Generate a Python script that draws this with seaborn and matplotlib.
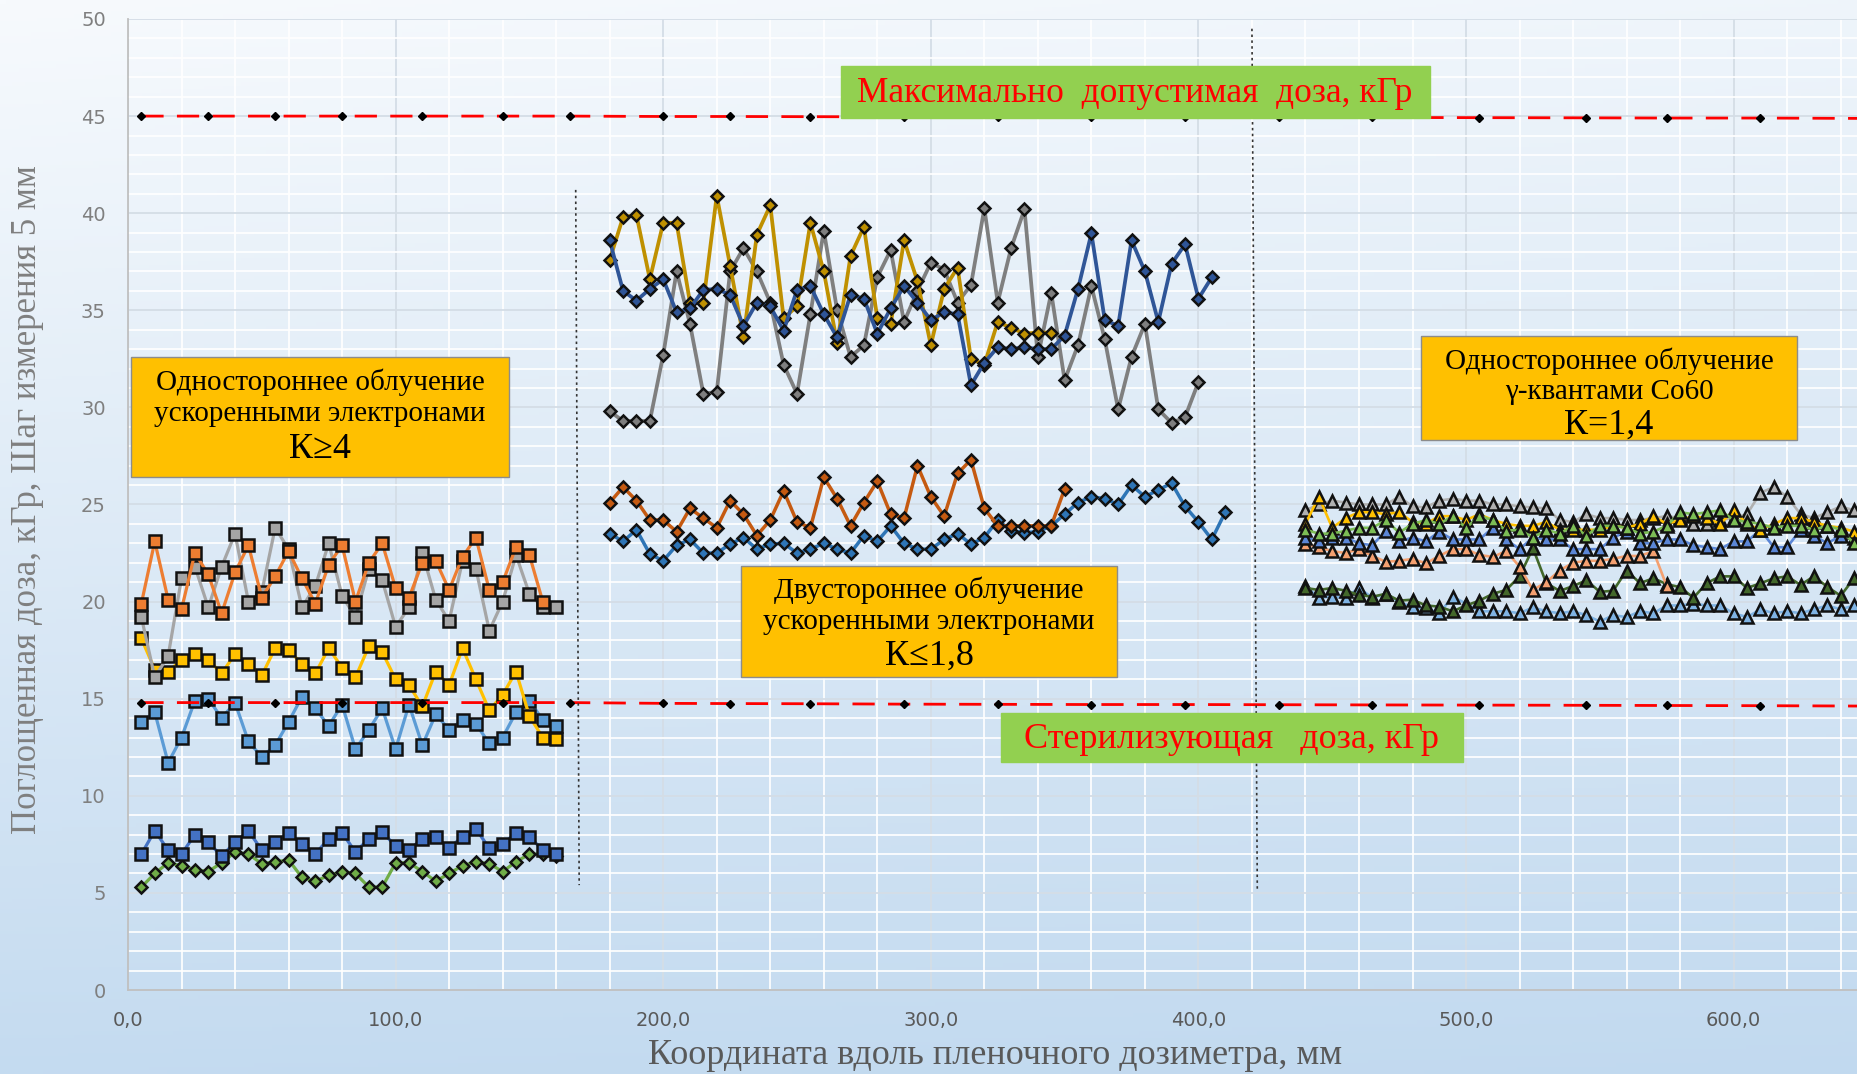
import numpy as np
import matplotlib
matplotlib.use("Agg")
import matplotlib.pyplot as plt
from matplotlib.patches import Rectangle
from matplotlib.colors import to_rgb
from matplotlib.ticker import FixedLocator, FixedFormatter
import seaborn as sns

# ---------------- data ----------------
STEP_MM = 5  # measurement step along the film dosimeter

# one-sided electron irradiation, K>=4 (x = 5 ... 160 mm)
left_start = 5
orange_L = [19.9, 23.1, 20.1, 19.6, 22.5, 21.4, 19.4, 21.5, 22.9, 20.2, 21.3, 22.6, 21.2, 19.9, 21.9, 22.9,
            20.0, 22.0, 23.0, 20.7, 20.2, 22.0, 22.1, 20.6, 22.3, 23.3, 20.6, 21.0, 22.8, 22.4, 20.0]
grey_L = [19.2, 16.1, 17.2, 21.2, 21.8, 19.7, 21.8, 23.5, 20.0, 20.5, 23.8, 22.7, 19.7, 20.8, 23.0, 20.3,
          19.2, 21.7, 21.1, 18.7, 19.7, 22.5, 20.1, 19.0, 22.1, 21.7, 18.5, 20.0, 22.4, 20.4, 19.7, 19.7]
yellow_L = [18.1, 16.5, 16.4, 17.0, 17.3, 17.0, 16.3, 17.3, 16.8, 16.2, 17.6, 17.5, 16.8, 16.3, 17.6, 16.6,
            16.1, 17.7, 17.4, 16.0, 15.7, 14.6, 16.4, 15.7, 17.6, 16.0, 14.4, 15.2, 16.4, 14.1, 13.0, 12.9]
blue_L = [13.8, 14.3, 11.7, 13.0, 14.9, 15.0, 14.0, 14.8, 12.8, 12.0, 12.6, 13.8, 15.1, 14.5, 13.6, 14.7,
          12.4, 13.4, 14.5, 12.4, 14.7, 12.6, 14.2, 13.4, 13.9, 13.7, 12.7, 13.0, 14.3, 14.9, 13.9, 13.6]
darkblue_L = [7.0, 8.2, 7.2, 7.0, 8.0, 7.6, 6.9, 7.6, 8.2, 7.2, 7.6, 8.1, 7.5, 7.0, 7.8, 8.1,
              7.1, 7.8, 8.15, 7.4, 7.2, 7.8, 7.9, 7.3, 7.9, 8.3, 7.3, 7.5, 8.1, 7.9, 7.2, 7.0]
green_L = [5.3, 6.0, 6.55, 6.4, 6.2, 6.1, 6.55, 7.1, 7.0, 6.5, 6.6, 6.7, 5.8, 5.6, 5.9, 6.1,
           6.0, 5.3, 5.3, 6.55, 6.55, 6.1, 5.6, 6.0, 6.4, 6.6, 6.5, 6.1, 6.6, 7.0, 7.0, 6.9]

# two-sided electron irradiation, K<=1.8 (x = 180 ... 410 mm)
mid_start = 180
gold_M = [37.6, 39.8, 39.9, 36.6, 39.5, 39.5, 35.4, 35.4, 40.9, 37.3, 33.6, 38.9, 40.4, 34.6, 35.2, 39.5,
          37.0, 33.3, 37.8, 39.3, 34.6, 34.3, 38.6, 36.5, 33.2, 36.1, 37.2, 32.5, 32.2, 34.4, 34.1, 33.8,
          33.85, 33.85]
grey_M = [29.8, 29.3, 29.3, 29.3, 32.7, 37.0, 34.3, 30.7, 30.8, 37.0, 38.2, 37.0, 35.4, 32.2, 30.7, 34.8,
          39.1, 35.0, 32.6, 33.2, 36.7, 38.1, 34.4, 36.0, 37.45, 37.1, 35.4, 36.3, 40.25, 35.4, 38.2, 40.2,
          32.6, 35.9, 31.4, 33.2, 36.25, 33.5, 29.9, 32.6, 34.3, 29.9, 29.2, 29.5, 31.3]
navy_M = [38.6, 36.0, 35.5, 36.1, 36.6, 34.9, 35.1, 36.05, 36.1, 35.8, 34.2, 35.4, 35.2, 33.95, 36.05, 36.25,
          34.8, 33.6, 35.8, 35.6, 33.8, 35.1, 36.25, 35.4, 34.5, 34.9, 34.8, 31.15, 32.3, 33.1, 33.0, 33.1,
          33.0, 33.0, 33.7, 36.1, 38.96, 34.5, 34.2, 38.6, 37.0, 34.4, 37.4, 38.4, 35.6, 36.7]
brown_M = [25.1, 25.9, 25.2, 24.2, 24.2, 23.6, 24.8, 24.3, 23.8, 25.2, 24.5, 23.4, 24.2, 25.7, 24.1, 23.8,
           26.4, 25.3, 23.9, 25.1, 26.2, 24.5, 24.3, 27.0, 25.4, 24.4, 26.6, 27.3, 24.8, 23.9, 23.9, 23.9,
           23.9, 23.9, 25.8]
steel_M = [23.5, 23.1, 23.7, 22.45, 22.1, 22.9, 23.2, 22.5, 22.5, 22.96, 23.3, 22.7, 22.96, 23.0, 22.5, 22.7,
           23.0, 22.7, 22.5, 23.4, 23.1, 23.9, 23.0, 22.7, 22.7, 23.2, 23.5, 22.96, 23.3, 24.2, 23.65, 23.55,
           23.6, 23.9, 24.5, 25.1, 25.4, 25.3, 25.0, 26.0, 25.4, 25.75, 26.1, 24.9, 24.1, 23.2, 24.6]

# one-sided Co60 gamma irradiation, K=1.4 (x = 440 ... 645 mm)
right_start = 440
lightblue_R = [20.8, 20.2, 20.25, 20.2, 20.7, 20.2, 20.4, 20.0, 19.7, 19.65, 19.4, 20.25, 19.9, 19.5, 19.5, 19.5,
               19.4, 19.7, 19.5, 19.4, 19.5, 19.3, 18.97, 19.3, 19.2, 19.5, 19.4, 19.8, 19.8, 19.9, 19.8, 19.8,
               19.4, 19.2, 19.6, 19.4, 19.5, 19.4, 19.6, 19.8, 19.6, 19.8]
darkgreen_R = [20.7, 20.6, 20.7, 20.56, 20.34, 20.25, 20.4, 20.05, 20.1, 19.8, 19.74, 19.5, 19.8, 20.05, 20.4,
               20.6, 21.3, 22.75, 20.95, 20.55, 20.8, 21.1, 20.5, 20.56, 21.6, 20.95, 21.2, 20.9, 20.74, 20.2,
               20.96, 21.3, 21.3, 20.7, 20.94, 21.2, 21.3, 20.86, 21.3, 20.76, 20.3, 21.2]
orange_R = [22.96, 22.8, 22.6, 22.5, 22.7, 22.35, 22.05, 22.1, 22.2, 21.97, 22.35, 22.7, 22.7, 22.4, 22.3, 22.6,
            21.8, 20.6, 21.0, 21.6, 22.0, 22.1, 22.1, 22.2, 22.35, 22.35, 22.6, 20.8]
grey_R = [24.7, 25.0, 25.2, 25.1, 25.0, 25.0, 25.0, 25.4, 24.9, 24.85, 25.2, 25.3, 25.2, 25.2, 25.0, 25.0,
          24.9, 24.85, 24.8, 24.2, 24.1, 24.5, 24.3, 24.3, 24.2, 24.2, 24.3, 24.4, 24.3, 24.0, 24.0, 24.2,
          24.3, 24.5, 25.6, 25.9, 25.4, 24.5, 24.3, 24.6, 24.9, 24.7]
blue_R = [23.3, 23.1, 23.3, 23.3, 23.0, 22.9, 23.65, 23.1, 23.3, 23.1, 23.6, 23.2, 23.2, 23.2, 23.8, 23.2,
          22.7, 23.3, 23.2, 23.2, 22.7, 22.7, 22.7, 23.3, 23.6, 23.0, 23.0, 23.2, 23.2, 22.9, 22.8, 22.7,
          23.1, 23.1, 23.7, 22.8, 22.8, 23.7, 23.4, 23.0, 23.4, 23.3]
yellow_R = [24.0, 25.4, 23.8, 24.3, 24.6, 24.6, 24.5, 24.6, 24.1, 24.0, 24.4, 24.4, 24.2, 24.5, 24.2, 24.0,
            23.9, 23.9, 24.1, 23.7, 23.7, 23.7, 23.7, 23.9, 23.8, 24.0, 24.4, 24.0, 24.2, 24.4, 24.3, 24.0,
            24.7, 24.0, 23.7, 24.0, 24.3, 24.3, 24.1, 23.9, 23.8, 23.6]
green_R = [23.7, 23.5, 23.5, 23.65, 23.8, 23.8, 24.2, 23.55, 24.0, 24.2, 24.0, 24.4, 23.8, 24.4, 24.2, 23.65,
           23.7, 23.3, 23.7, 23.5, 23.9, 23.4, 23.9, 23.9, 23.8, 23.5, 23.6, 23.9, 24.6, 24.5, 24.6, 24.7,
           24.2, 24.1, 24.0, 23.8, 23.9, 23.9, 23.7, 23.9, 23.7, 23.0]

# dose limits
limit_x = [5, 30, 55, 80, 110, 140, 165, 200, 225, 255, 290, 325, 360, 395, 430, 465, 505, 545, 575, 610, 650]
max_dose = [45.0, 45.0, 45.0, 45.0, 45.0, 45.0, 45.0, 44.98, 44.98, 44.97, 44.96, 44.95, 44.95, 44.94,
            44.93, 44.93, 44.92, 44.91, 44.9, 44.9, 44.88]
steril_dose = [14.8, 14.8, 14.8, 14.8, 14.8, 14.8, 14.8, 14.76, 14.75, 14.74, 14.72, 14.71, 14.7, 14.7,
               14.69, 14.68, 14.67, 14.66, 14.65, 14.64, 14.62]

# section dividers
divider1_x = [167.3, 168.6]
divider1_y = [41.2, 5.4]
divider2_x = [420.0, 422.0]
divider2_y = [49.5, 5.2]

y_ticks = [0, 5, 10, 15, 20, 25, 30, 35, 40, 45, 50]
x_ticks = [0, 100, 200, 300, 400, 500, 600]
x_tick_labels = ["0,0", "100,0", "200,0", "300,0", "400,0", "500,0", "600,0"]


def xs(start, values):
    return list(start + STEP_MM * np.arange(len(values)))


# ---------------- figure ----------------
W, H = 1857, 1074
sns.set_style("white")
plt.rcParams["font.family"] = ["DejaVu Sans"]
SERIF = ["Liberation Serif", "DejaVu Serif"]

fig = plt.figure(figsize=(W / 100, H / 100), dpi=100)


def fx(px):
    return px / W


def fy(py):
    return 1 - py / H


# soft vertical gradient background
bg = fig.add_axes([0, 0, 1, 1], zorder=-10)
bg.axis("off")
gy = np.linspace(0, 1, 300)[:, None]
gx = np.linspace(0, 1, 300)[None, :]
t = np.clip(0.86 * gy + 0.14 * gx * (1 - gy) + 0.05 * gy * gx, 0, 1)
c_top = np.array(to_rgb("#f7fafd"))
c_bot = np.array(to_rgb("#bcd6ee"))
img = c_top[None, None, :] * (1 - t[..., None]) + c_bot[None, None, :] * t[..., None]
bg.imshow(img, aspect="auto", extent=[0, 1, 0, 1], origin="upper")
bg.set_xlim(0, 1)
bg.set_ylim(0, 1)

ax = fig.add_axes([fx(128), fy(990), 1 - fx(128), (990 - 19) / H])
ax.set_facecolor("none")
ax.set_xlim(0, 646.1)
ax.set_ylim(0, 50)

# grid
ax.yaxis.set_major_locator(FixedLocator(y_ticks))
ax.yaxis.set_minor_locator(FixedLocator(list(range(0, 51))))
ax.xaxis.set_major_locator(FixedLocator(x_ticks))
ax.xaxis.set_major_formatter(FixedFormatter(x_tick_labels))
ax.xaxis.set_minor_locator(FixedLocator(list(range(0, 660, 20))))
ax.grid(which="minor", color="white", linewidth=1.3, alpha=0.95, zorder=0)
ax.grid(which="major", color="#d4dde6", linewidth=1.3, zorder=0)
ax.set_axisbelow(True)
for s in ["top", "right"]:
    ax.spines[s].set_visible(False)
for s in ["left", "bottom"]:
    ax.spines[s].set_color("#c0c0c0")
    ax.spines[s].set_linewidth(1.3)
ax.tick_params(axis="y", which="major", length=7, color="#c0c0c0", pad=9,
               labelsize=14, labelcolor="#7f7f7f")
ax.tick_params(axis="y", which="minor", length=4, color="#c8c8c8")
ax.tick_params(axis="x", which="major", length=7, color="#c0c0c0", pad=8,
               labelsize=14, labelcolor="#595959")
ax.tick_params(axis="x", which="minor", length=0)


def series(x, y, color, marker, ms, lw, z):
    sns.lineplot(x=x, y=y, ax=ax, color=color, marker=marker, markersize=ms,
                 markeredgecolor="#111111", markeredgewidth=1.8, linewidth=lw,
                 estimator=None, errorbar=None, sort=False, zorder=z, legend=False)


# left block: squares and diamonds
series(xs(left_start, green_L), green_L, "#70ad47", "D", 6.5, 2.3, 3)
series(xs(left_start, darkblue_L), darkblue_L, "#4472c4", "s", 9, 2.3, 3)
series(xs(left_start, blue_L), blue_L, "#5b9bd5", "s", 9, 2.3, 3)
series(xs(left_start, yellow_L), yellow_L, "#ffc000", "s", 9, 2.3, 3)
series(xs(left_start, grey_L), grey_L, "#a5a5a5", "s", 9, 2.3, 3)
series(xs(left_start, orange_L), orange_L, "#ed7d31", "s", 9, 2.3, 3)

# middle block: diamonds
series(xs(mid_start, steel_M), steel_M, "#2e75b6", "D", 6.5, 2.5, 3)
series(xs(mid_start, brown_M), brown_M, "#c55a11", "D", 6.5, 2.5, 3)
series(xs(mid_start, grey_M), grey_M, "#7f7f7f", "D", 6.5, 2.7, 3)
series(xs(mid_start, gold_M), gold_M, "#bf9000", "D", 6.5, 2.7, 3)
series(xs(mid_start, navy_M), navy_M, "#2f5597", "D", 6.5, 2.7, 3)

# right block: triangles
series(xs(right_start, lightblue_R), lightblue_R, "#7fb3e3", "^", 8.5, 1.9, 3)
series(xs(right_start, darkgreen_R), darkgreen_R, "#43682b", "^", 8.5, 1.9, 3)
series(xs(right_start, orange_R), orange_R, "#f4a070", "^", 8.5, 1.9, 3)
series(xs(right_start, grey_R), grey_R, "#b0b0b0", "^", 8.5, 1.9, 3)
series(xs(right_start, blue_R), blue_R, "#5b86d6", "^", 8.5, 1.9, 3)
series(xs(right_start, yellow_R), yellow_R, "#ffc000", "^", 8.5, 1.9, 3)
series(xs(right_start, green_R), green_R, "#7cbd55", "^", 8.5, 1.9, 3)

# dose limits
for yv in (max_dose, steril_dose):
    ax.plot(limit_x, yv, color="red", linewidth=2.0, dashes=(8, 4.8), zorder=4)
    ax.plot(limit_x, yv, linestyle="none", marker="D", markersize=4.2,
            color="black", zorder=5)

# dividers
for dxv, dyv in ((divider1_x, divider1_y), (divider2_x, divider2_y)):
    ax.plot(dxv, dyv, color="#333333", linewidth=1.2, linestyle=(0, (1.5, 2)), zorder=4)

# axis titles
fig.text(fx(995), fy(1056), "Координата вдоль пленочного дозиметра, мм", family=SERIF,
         fontsize=26, color="#595959", ha="center", va="center")
fig.text(fx(28), fy(500), "Поглощенная доза, кГр, Шаг измерения 5 мм", family=SERIF,
         fontsize=25, color="#7f7f7f", ha="center", va="center", rotation=90)


def box(x0, y0, x1, y1, fc, ec="#8c8c8c"):
    fig.add_artist(Rectangle((fx(x0), fy(y1)), fx(x1) - fx(x0), fy(y0) - fy(y1),
                             transform=fig.transFigure, facecolor=fc, edgecolor=ec,
                             linewidth=1.0, zorder=20))


def label(x, y, s, size, color="black"):
    fig.text(fx(x), fy(y), s, family=SERIF, fontsize=size, color=color,
             ha="center", va="center", zorder=21)


# annotation boxes
box(131, 357, 509, 477, "#ffc000")
label(320, 382, "Одностороннее облучение", 21)
label(320, 414, "ускоренными электронами", 21)
label(320, 449, "К≥4", 26)

box(741, 566, 1117, 677, "#ffc000")
label(929, 590, "Двустороннее облучение", 21)
label(929, 622, "ускоренными электронами", 21)
label(929, 656, "К≤1,8", 26)

box(1421, 336, 1797, 440, "#ffc000")
label(1609, 361, "Одностороннее облучение", 21)
label(1609, 392, "γ-квантами Со60", 21)
label(1609, 425, "К=1,4", 26)

box(841, 66, 1430, 118, "#92d050", ec="#92d050")
label(1135, 93, "Максимально  допустимая  доза, кГр", 25.5, color="#ff0000")

box(1001, 713, 1463, 762, "#92d050", ec="#92d050")
label(1232, 739, "Стерилизующая   доза, кГр", 26, color="#ff0000")

fig.savefig("out.png", dpi=100)
